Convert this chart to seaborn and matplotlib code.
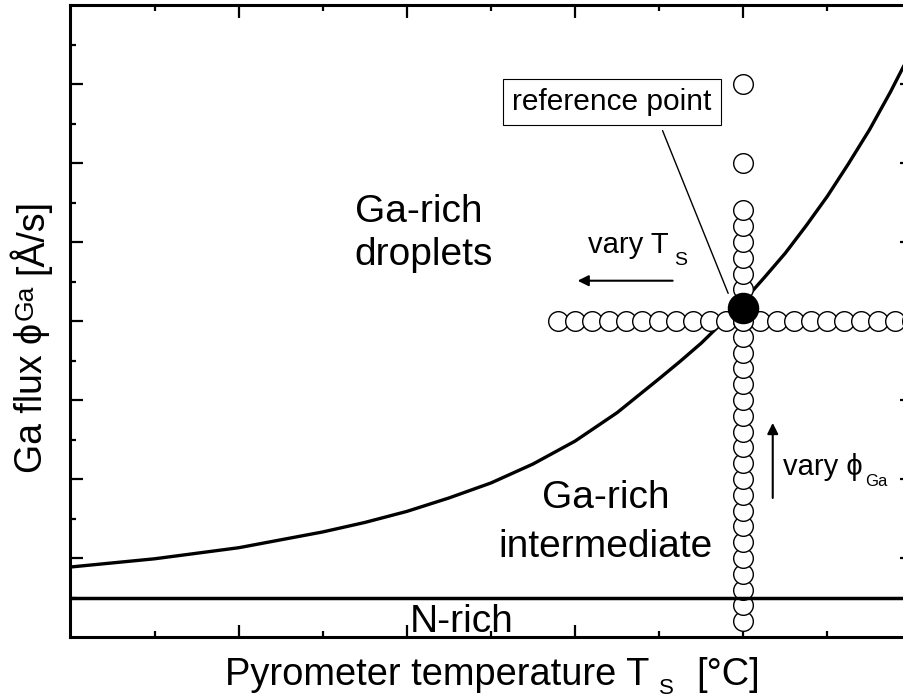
import matplotlib
matplotlib.use("Agg")
import matplotlib.pyplot as plt
import seaborn as sns
import pandas as pd

# ---------------- data ----------------
curve_T = [0.0, 1.0, 2.0, 3.0, 3.5, 4.0, 4.5, 5.0, 5.5, 6.0, 6.5, 7.0,
           7.25, 7.5, 7.75, 8.0, 8.25, 8.5, 8.75, 9.0, 9.25, 9.5, 9.75, 10.0]
curve_flux = [0.886, 0.99, 1.13, 1.33, 1.45, 1.59, 1.76, 1.95, 2.19, 2.48,
              2.84, 3.27, 3.49, 3.72, 3.98, 4.25, 4.55, 4.86, 5.21, 5.58,
              5.99, 6.42, 6.90, 7.42]

row_T = [5.8, 6.0, 6.2, 6.4, 6.6, 6.8, 7.0, 7.2, 7.4, 7.6, 7.8, 8.0, 8.2,
         8.4, 8.6, 8.8, 9.0, 9.2, 9.4, 9.6, 9.8, 10.0]
row_flux = [4.0, 4.0, 4.0, 4.0, 4.0, 4.0, 4.0, 4.0, 4.0, 4.0, 4.0, 4.0, 4.0,
            4.0, 4.0, 4.0, 4.0, 4.0, 4.0, 4.0, 4.0, 4.0]

col_flux = [0.2, 0.4, 0.6, 0.8, 1.0, 1.2, 1.4, 1.6, 1.8, 2.0, 2.2, 2.4, 2.6,
            2.8, 3.0, 3.2, 3.4, 3.6, 3.8, 4.0, 4.2, 4.4, 4.6, 4.8, 5.0, 5.2,
            5.4, 6.0, 7.0]
col_T = [8.0, 8.0, 8.0, 8.0, 8.0, 8.0, 8.0, 8.0, 8.0, 8.0, 8.0, 8.0, 8.0,
         8.0, 8.0, 8.0, 8.0, 8.0, 8.0, 8.0, 8.0, 8.0, 8.0, 8.0, 8.0, 8.0,
         8.0, 8.0, 8.0]

ref_T = [8.0]
ref_flux = [4.16]

nrich_flux = 0.5

x_major = [2, 4, 6, 8]
x_minor = [1, 3, 5, 7, 9]
y_major = [1, 2, 3, 4, 5, 6, 7]
y_minor = [0.5, 1.5, 2.5, 3.5, 4.5, 5.5, 6.5, 7.5]

# ---------------- style ----------------
sns.set_theme(style="ticks")
plt.rcParams["font.family"] = ["Liberation Sans", "DejaVu Sans"]
for key in ["text.color", "axes.labelcolor", "xtick.color", "ytick.color",
            "axes.edgecolor"]:
    plt.rcParams[key] = "black"

W, H = 904, 700
fig = plt.figure(figsize=(W / 100, H / 100), dpi=100)
ax = fig.add_axes([70.5 / W, 63 / H, 841 / W, 632 / H])
ax.set_facecolor("white")

curve_df = pd.DataFrame({"T": curve_T, "flux": curve_flux})
sns.lineplot(data=curve_df, x="T", y="flux", ax=ax, color="black",
             linewidth=2.4, sort=False, estimator=None, zorder=2)

ax.axhline(nrich_flux, color="black", linewidth=2.5, zorder=5)

sns.scatterplot(x=row_T, y=row_flux, ax=ax, marker="o", s=200,
                color="white", edgecolor="black", linewidth=1.0, zorder=3)
sns.scatterplot(x=col_T, y=col_flux, ax=ax, marker="o", s=200,
                color="white", edgecolor="black", linewidth=1.0, zorder=3)
sns.scatterplot(x=ref_T, y=ref_flux, ax=ax, marker="o", s=470,
                color="black", edgecolor="black", linewidth=1.0, zorder=4)

ax.set_xlim(0, 10)
ax.set_ylim(0, 8)
ax.set_xticks(x_major)
ax.set_xticks(x_minor, minor=True)
ax.set_yticks(y_major)
ax.set_yticks(y_minor, minor=True)
ax.tick_params(which="both", direction="in", top=True, right=True,
               labelbottom=False, labelleft=False, width=1.6, color="black")
ax.tick_params(which="major", length=9)
ax.tick_params(which="minor", length=4.5)
ax.set_xlabel("")
ax.set_ylabel("")
for sp in ax.spines.values():
    sp.set_linewidth(2.2)
    sp.set_color("black")


def ftext(px, py, s, size, **kw):
    return fig.text(px / W, (H - py) / H, s, fontsize=size, ha="left",
                    va="baseline", **kw)


# x-axis label (with subscript)
ftext(225, 685, "Pyrometer temperature T", 27.4)
ftext(659, 694, "S", 16)
ftext(696, 685, "[°C]", 27.4)

# y-axis label (rotated, with subscript)
rot = dict(rotation=90, rotation_mode="anchor")
ftext(42, 473, "Ga flux ϕ", 27, **rot)
ftext(33, 320, "Ga", 19, **rot)
ftext(42, 274, "[Å/s]", 27, **rot)

big = 28
ax.text(3.38, 5.25, "Ga-rich", fontsize=big, ha="left", va="baseline")
ax.text(3.38, 4.71, "droplets", fontsize=big, ha="left", va="baseline")
ax.text(6.36, 1.63, "Ga-rich", fontsize=big, ha="center", va="baseline")
ax.text(6.36, 1.01, "intermediate", fontsize=big, ha="center", va="baseline")
ax.text(4.03, 0.06, "N-rich", fontsize=big, ha="left", va="baseline")

ax.text(6.44, 6.77, "reference point", fontsize=21.5, ha="center",
        va="center", zorder=6,
        bbox=dict(boxstyle="square,pad=0.3", facecolor="white",
                  edgecolor="black", linewidth=0.8))
ax.plot([7.04, 7.82], [6.41, 4.35], color="black", linewidth=1.0, zorder=2)

ax.text(6.15, 4.86, "vary T", fontsize=21, ha="left", va="baseline")
ax.text(7.18, 4.71, "S", fontsize=14, ha="left", va="baseline")
ax.annotate("", xy=(6.03, 4.51), xytext=(7.16, 4.51),
            arrowprops=dict(arrowstyle="-|>", color="black", lw=1.5,
                            mutation_scale=16, shrinkA=0, shrinkB=0))

ax.text(8.47, 2.05, "vary ϕ", fontsize=21, ha="left", va="baseline")
ax.text(9.45, 1.91, "Ga", fontsize=12, ha="left", va="baseline")
ax.annotate("", xy=(8.35, 2.71), xytext=(8.35, 1.76),
            arrowprops=dict(arrowstyle="-|>", color="black", lw=1.5,
                            mutation_scale=16, shrinkA=0, shrinkB=0))

fig.savefig("out.png", dpi=100, facecolor="white")
